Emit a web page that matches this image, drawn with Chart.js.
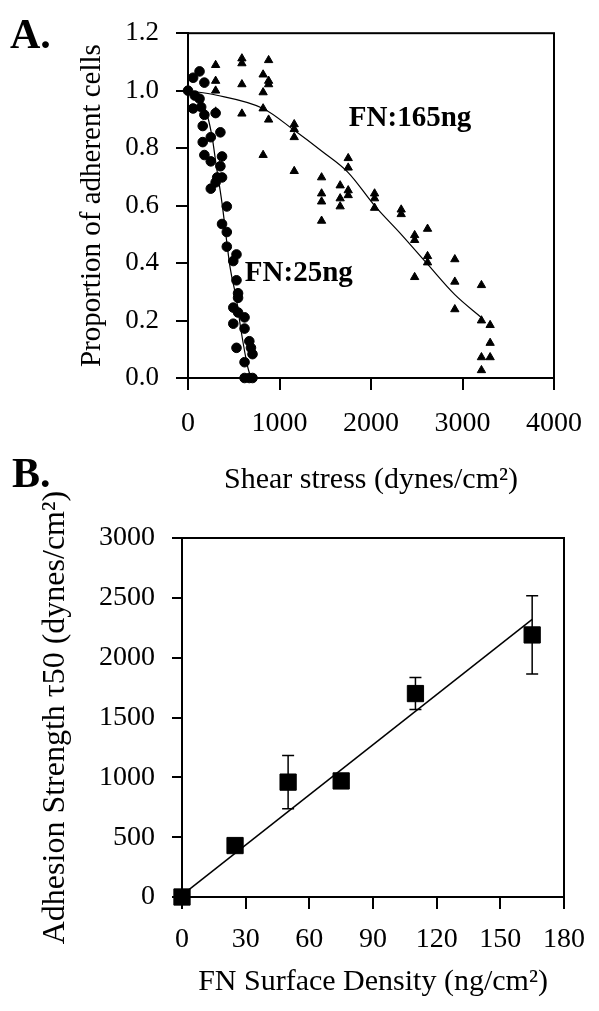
<!DOCTYPE html>
<html lang="en">
<head>
  <meta charset="UTF-8">
  <title>Cell adhesion strength</title>
  <script src="https://cdn.jsdelivr.net/npm/chart.js"></script>
  <style>
    body { margin: 0; background: #fff; }
    .wrap { position: relative; width: 599px; height: 1011px; }
    canvas { position: absolute; left: 0; }
    #panelA { top: 0; }
    #panelB { top: 440px; }
  </style>
</head>
<body>
  <div class="wrap">
    <canvas id="panelA" width="599" height="505"></canvas>
    <canvas id="panelB" width="599" height="571"></canvas>
  </div>

  <script>
    // Panel A - FN 25 ng (circles)
    const fn25X = [0, 56, 126, 179, 74, 126, 56, 144, 179, 302, 161, 354, 249, 161, 179, 249, 372, 354, 319, 372, 302, 249,
                   424, 372, 424, 424, 530, 495, 530, 547, 547, 495, 547, 618, 495, 618, 670, 530, 688, 705, 618, 618, 670, 705];
    const fn25Y = [1.00, 1.045, 1.067, 1.028, 0.983, 0.972, 0.938, 0.943, 0.916, 0.922, 0.877, 0.855, 0.838, 0.821, 0.776, 0.754, 0.771, 0.737, 0.698, 0.698, 0.681, 0.659,
                   0.597, 0.536, 0.508, 0.457, 0.430, 0.407, 0.340, 0.295, 0.279, 0.245, 0.228, 0.211, 0.189, 0.172, 0.128, 0.105, 0.105, 0.083, 0.055, 0.0, 0.0, 0.0];

    // Panel A - FN 165 ng (triangles)
    const fn165X = [302, 302, 302, 302, 589, 589, 589, 589, 881, 821, 881, 881, 821, 821, 881, 821,
                    1161, 1161, 1161, 1161, 1460, 1460, 1460, 1460, 1663, 1663, 1663, 1751, 1751, 1751, 1751,
                    2039, 2039, 2039, 2330, 2330, 2477, 2477, 2477, 2618, 2618, 2618, 2916, 2916, 2916,
                    3207, 3207, 3207, 3207, 3302, 3302, 3302];
    const fn165Y = [1.089, 1.034, 1.0, 0.927, 1.112, 1.095, 1.022, 0.92, 1.106, 1.056, 1.034, 1.022, 0.994, 0.938, 0.899, 0.776,
                    0.883, 0.866, 0.838, 0.72, 0.698, 0.642, 0.614, 0.547, 0.67, 0.625, 0.597, 0.765, 0.732, 0.653, 0.636,
                    0.642, 0.625, 0.592, 0.586, 0.57, 0.497, 0.48, 0.351, 0.519, 0.424, 0.402, 0.413, 0.335, 0.239,
                    0.323, 0.2, 0.072, 0.027, 0.184, 0.122, 0.072];

    // fitted curves
    const fit25X = [0, 126, 214, 267, 302, 372, 460, 530, 582, 653, 690];
    const fit25Y = [1.0, 0.972, 0.91, 0.832, 0.754, 0.608, 0.385, 0.273, 0.161, 0.038, 0.0];
    const fit165X = [0, 302, 821, 1161, 1460, 1751, 2039, 2330, 2618, 2916, 3207];
    const fit165Y = [1.0, 0.985, 0.938, 0.862, 0.79, 0.715, 0.6, 0.5, 0.396, 0.29, 0.21];

    const shearTicks = [0, 1000, 2000, 3000, 4000];
    const proportionTicks = [0, 0.2, 0.4, 0.6, 0.8, 1.0, 1.2];

    // Panel B - adhesion strength vs FN density
    const densityX = [0, 25, 50, 75, 110, 165];
    const strengthY = [0, 430, 960, 970, 1700, 2190];
    const strengthErr = [0, 0, 222, 0, 134, 327];
    const fitLineX = [0, 165];
    const fitLineY = [15, 2320];

    const densityTicks = [0, 30, 60, 90, 120, 150, 180];
    const strengthTicks = [0, 500, 1000, 1500, 2000, 2500, 3000];

    const FONT = 'Liberation Serif';

    function pts(xs, ys) {
      return xs.map((x, i) => ({ x: x, y: ys[i] }));
    }

    // box around the plot area
    const framePlugin = {
      id: 'frame',
      afterDatasetsDraw(chart) {
        const { ctx, chartArea: a } = chart;
        ctx.save();
        ctx.strokeStyle = '#000';
        ctx.lineWidth = 2;
        ctx.strokeRect(a.left, a.top, a.right - a.left, a.bottom - a.top);
        ctx.restore();
      }
    };

    // text notes: panel letter (pixels) and series labels (data coords)
    const notesPlugin = {
      id: 'notes',
      afterDraw(chart, args, opts) {
        const ctx = chart.ctx;
        ctx.save();
        ctx.fillStyle = '#000';
        ctx.textBaseline = 'alphabetic';
        ctx.textAlign = 'left';
        ctx.font = 'bold 42px "' + FONT + '"';
        ctx.fillText(opts.letter.text, opts.letter.left, opts.letter.baseline);
        ctx.font = 'bold 29px "' + FONT + '"';
        (opts.items || []).forEach(it => {
          const px = chart.scales.x.getPixelForValue(it.x);
          const py = chart.scales.y.getPixelForValue(it.y);
          ctx.fillText(it.text, px, py);
        });
        ctx.restore();
      }
    };

    // error bars for panel B
    const errorBarsPlugin = {
      id: 'errorBars',
      beforeDatasetsDraw(chart) {
        const xs = chart.scales.x, ys = chart.scales.y, ctx = chart.ctx;
        ctx.save();
        ctx.strokeStyle = '#000';
        ctx.lineWidth = 1.5;
        densityX.forEach((d, i) => {
          const e = strengthErr[i];
          if (!e) return;
          const px = xs.getPixelForValue(d);
          const top = ys.getPixelForValue(strengthY[i] + e);
          const bot = ys.getPixelForValue(strengthY[i] - e);
          ctx.beginPath();
          ctx.moveTo(px, top); ctx.lineTo(px, bot);
          ctx.moveTo(px - 6, top); ctx.lineTo(px + 6, top);
          ctx.moveTo(px - 6, bot); ctx.lineTo(px + 6, bot);
          ctx.stroke();
        });
        ctx.restore();
      }
    };

    function axis(o) {
      return {
        type: 'linear',
        min: o.ticks[0],
        max: o.ticks[o.ticks.length - 1],
        afterBuildTicks: s => { s.ticks = o.ticks.map(v => ({ value: v })); },
        afterFit: s => { if (o.width) s.width = o.width; if (o.height) s.height = o.height; },
        ticks: {
          color: '#000',
          font: { family: FONT, size: o.tickSize },
          padding: o.tickPad,
          callback: o.format
        },
        grid: { drawOnChartArea: false, drawTicks: true, tickLength: o.tickLen, color: '#000', lineWidth: 2 },
        border: { display: true, color: '#000', width: 2 },
        title: {
          display: true,
          text: o.title,
          color: '#000',
          font: { family: FONT, size: o.titleSize },
          padding: o.titlePad
        }
      };
    }

    function createCharts() {
      new Chart(document.getElementById('panelA'), {
        type: 'scatter',
        data: {
          datasets: [
            { label: 'FN:25ng', data: pts(fn25X, fn25Y), pointStyle: 'circle', pointRadius: 4.8,
              backgroundColor: '#000', borderColor: '#000', borderWidth: 1 },
            { label: 'FN:165ng', data: pts(fn165X, fn165Y), pointStyle: 'triangle', pointRadius: 4.8,
              backgroundColor: '#000', borderColor: '#000', borderWidth: 1 },
            { label: 'fit 25', data: pts(fit25X, fit25Y), showLine: true, pointRadius: 0,
              borderColor: '#000', borderWidth: 1.2, cubicInterpolationMode: 'monotone' },
            { label: 'fit 165', data: pts(fit165X, fit165Y), showLine: true, pointRadius: 0,
              borderColor: '#000', borderWidth: 1.2, cubicInterpolationMode: 'monotone' }
          ]
        },
        options: {
          responsive: false,
          animation: false,
          devicePixelRatio: 1,
          clip: false,
          layout: { padding: { top: 20, right: 31, left: 0, bottom: 0 } },
          plugins: {
            legend: { display: false },
            tooltip: { enabled: false },
            notes: {
              letter: { text: 'A.', left: 10, baseline: 48 },
              items: [
                { text: 'FN:165ng', x: 1758, y: 0.876 },
                { text: 'FN:25ng', x: 621, y: 0.339 }
              ]
            }
          },
          scales: {
            x: axis({ ticks: shearTicks, height: 127, tickSize: 28, tickPad: 17, tickLen: 12,
                      format: v => String(v), title: 'Shear stress (dynes/cm²)', titleSize: 30,
                      titlePad: { top: 0, bottom: 7 } }),
            y: axis({ ticks: proportionTicks, width: 188, tickSize: 27, tickPad: 17, tickLen: 12,
                      format: v => v.toFixed(1), title: 'Proportion of adherent cells', titleSize: 29,
                      titlePad: { top: 75, bottom: 0 } })
          }
        },
        plugins: [framePlugin, notesPlugin]
      });

      new Chart(document.getElementById('panelB'), {
        type: 'scatter',
        data: {
          datasets: [
            { label: 'Adhesion strength', data: pts(densityX, strengthY), pointStyle: 'rect', pointRadius: 11.5,
              backgroundColor: '#000', borderColor: '#000', borderWidth: 1 },
            { label: 'Linear fit', data: pts(fitLineX, fitLineY), showLine: true, pointRadius: 0,
              borderColor: '#000', borderWidth: 1.5 }
          ]
        },
        options: {
          responsive: false,
          animation: false,
          devicePixelRatio: 1,
          clip: false,
          layout: { padding: { top: 98, right: 34, left: 0, bottom: 0 } },
          plugins: {
            legend: { display: false },
            tooltip: { enabled: false },
            notes: { letter: { text: 'B.', left: 12, baseline: 47 }, items: [] }
          },
          scales: {
            x: axis({ ticks: densityTicks, height: 114, tickSize: 28, tickPad: 14, tickLen: 12,
                      format: v => String(v), title: 'FN Surface Density (ng/cm²)', titleSize: 30,
                      titlePad: { top: 0, bottom: 11 } }),
            y: axis({ ticks: strengthTicks, width: 182, tickSize: 28, tickPad: 17, tickLen: 10,
                      format: v => String(v), title: 'Adhesion Strength τ50 (dynes/cm²)', titleSize: 32,
                      titlePad: { top: 36, bottom: 0 } })
          }
        },
        plugins: [framePlugin, notesPlugin, errorBarsPlugin]
      });
    }

    document.addEventListener('DOMContentLoaded', function() {
      createCharts();
    });
  </script>
</body>
</html>
